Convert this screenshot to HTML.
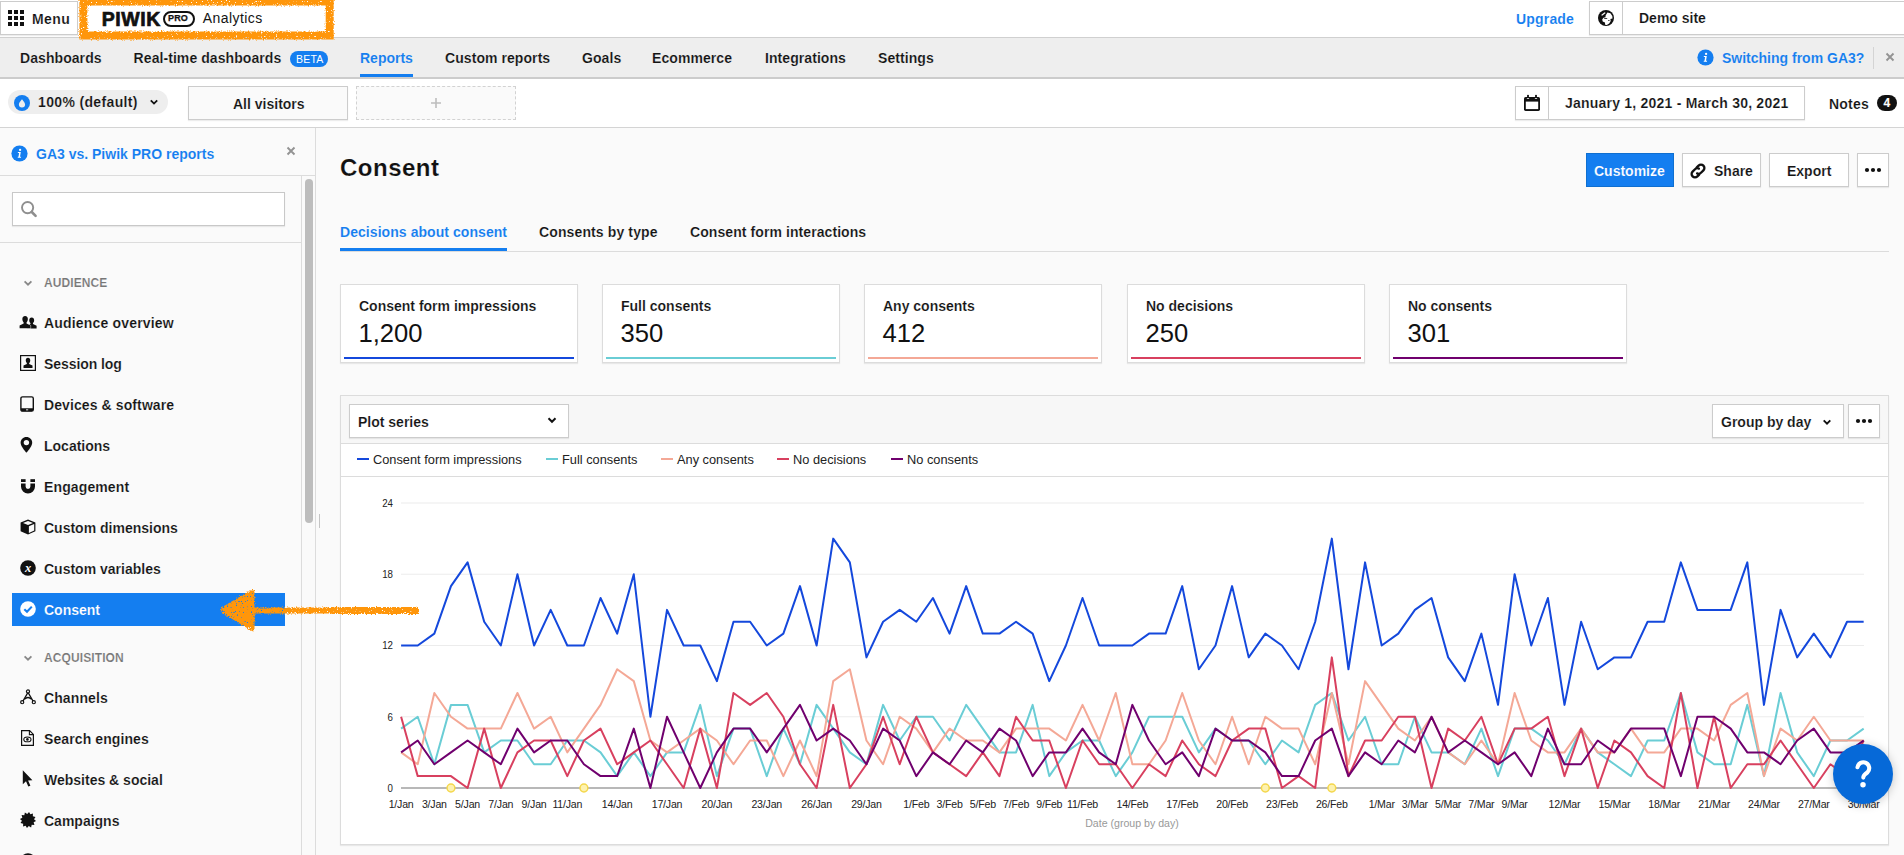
<!DOCTYPE html>
<html><head><meta charset="utf-8"><title>Consent</title><style>
*{box-sizing:border-box;margin:0;padding:0}
html,body{width:1904px;height:855px;overflow:hidden;background:#fafafa}
body{font-family:"Liberation Sans",sans-serif;font-size:14px;color:#1c1c1c;position:relative}
.a{position:absolute}
.t{position:absolute;white-space:nowrap;font-weight:700;font-size:14px;line-height:16px;color:#131313}
.t{-webkit-text-stroke:0.15px #fff}
.e{-webkit-text-stroke-color:#eee}
.f{-webkit-text-stroke-color:#fafafa}
.b{-webkit-text-stroke-color:#147ef0}
.r{font-weight:400;-webkit-text-stroke:0}
.bl{color:#147ef0;-webkit-text-stroke-width:0.08px}
.box{position:absolute;border:1px solid #ccc;background:#fff;box-shadow:0 1px 1px rgba(0,0,0,0.07)}
svg{position:absolute;overflow:visible}
</style></head><body>
<!-- top -->
<div class="a" style="left:0;top:0;width:1904px;height:38px;background:#fff;border-bottom:1px solid #d0d0d0"></div>
<div class="box" style="left:0;top:1px;width:78px;height:34px;border-color:#ccc"></div>
<svg style="left:0;top:0" width="30" height="38"><rect x="8" y="10" width="4" height="4" fill="#111"/><rect x="8" y="16" width="4" height="4" fill="#111"/><rect x="8" y="22" width="4" height="4" fill="#111"/><rect x="14" y="10" width="4" height="4" fill="#111"/><rect x="14" y="16" width="4" height="4" fill="#111"/><rect x="14" y="22" width="4" height="4" fill="#111"/><rect x="20" y="10" width="4" height="4" fill="#111"/><rect x="20" y="16" width="4" height="4" fill="#111"/><rect x="20" y="22" width="4" height="4" fill="#111"/></svg>
<div class="t" style="left:32px;top:11px;letter-spacing:0.4px">Menu</div>
<div class="t" style="left:101.8px;top:8px;font-size:19.5px;line-height:22px;font-weight:700;letter-spacing:0.55px;color:#111;-webkit-text-stroke:0.7px #111">PIWIK</div>
<div class="a" style="left:163px;top:10.5px;width:32px;height:16px;border:2px solid #111;border-radius:8px"></div>
<div class="t" style="left:168px;top:12px;font-size:9px;line-height:13px;letter-spacing:0.15px;color:#111;-webkit-text-stroke:0.25px #111">PRO</div>
<div class="t r" style="left:202.7px;top:10px;font-size:14px;letter-spacing:0.45px">Analytics</div>
<div class="t bl" style="left:1516px;top:11px;letter-spacing:0.18px">Upgrade</div>
<div class="box" style="left:1589px;top:1px;width:330px;height:34px"></div>
<div class="a" style="left:1622px;top:2px;width:1px;height:32px;background:#ccc"></div>
<div class="t" style="left:1639px;top:10px">Demo site</div>
<svg style="left:1598px;top:9.9px" width="16" height="16" viewBox="0 0 16 16"><circle cx="8" cy="8" r="8" fill="#111"/><path d="M7.6 5.4 L9.4 2.4 L12.4 3.2 L14.3 6 L14.5 8.4 L12.4 8.9 L12.7 11 L11.2 13.4 L8.8 15 L7.1 14.7 L7 12.6 L4.7 11.5 L4.2 9.5 L5.5 7.7 L7.5 7.3Z" fill="#fff"/><path d="M3.1 5 L6.6 2.3 L7.7 2.9 L4.1 5.7Z" fill="#fff"/><rect x="6.2" y="8.1" width="3" height="0.8" fill="#111"/><rect x="10" y="10" width="1.6" height="0.7" fill="#111"/></svg>
<div class="a" style="left:0;top:38px;width:1904px;height:41px;background:#eee;border-bottom:2px solid #ccc"></div>
<div class="t e" style="left:20px;top:50px;letter-spacing:0.07px">Dashboards</div>
<div class="t e" style="left:133.6px;top:50px;letter-spacing:0.07px">Real-time dashboards</div>
<div class="t e" style="left:445px;top:50px;letter-spacing:0.07px">Custom reports</div>
<div class="t e" style="left:582px;top:50px;letter-spacing:0.07px">Goals</div>
<div class="t e" style="left:652px;top:50px;letter-spacing:0.07px">Ecommerce</div>
<div class="t e" style="left:765px;top:50px;letter-spacing:0.07px">Integrations</div>
<div class="t e" style="left:878px;top:50px;letter-spacing:0.07px">Settings</div>
<div class="t bl e" style="left:360px;top:50px">Reports</div>
<div class="a" style="left:360px;top:74px;width:53px;height:3px;background:#147ef0"></div>
<div class="a" style="left:290px;top:51px;width:38px;height:16px;border-radius:8px;background:#147ef0"></div>
<div class="t r" style="left:296px;top:52px;font-size:10.5px;line-height:14px;color:#fff;letter-spacing:0.2px">BETA</div>
<svg style="left:1697.2px;top:49.3px" width="17" height="17" viewBox="-0.5 -0.5 17 17"><circle cx="8" cy="8" r="8.1" fill="#147ef0"/><circle cx="8.6" cy="4.4" r="1.15" fill="#fff"/><path d="M6.4 6.6 L9.3 6.6 L8.5 11.2 L9.6 11.2 L9.5 12.2 L6.2 12.2 L6.3 11.2 L7 11.2 L7.6 7.6 L6.3 7.6 Z" fill="#fff"/></svg>
<div class="t bl e" style="left:1722px;top:50px">Switching from GA3?</div>
<div class="a" style="left:1873px;top:47px;width:1px;height:22px;background:#d4d4d4"></div>
<svg style="left:1883.5px;top:50.8px" width="12" height="12" viewBox="-6 -6 12 12"><path d="M-3.5 -3.5L3.5 3.5M3.5 -3.5L-3.5 3.5" stroke="#939393" stroke-width="1.9" fill="none"/></svg>
<div class="a" style="left:0;top:79px;width:1904px;height:49px;background:#fff;border-bottom:1px solid #d4d4d4"></div>
<div class="a" style="left:8px;top:90px;width:160px;height:24px;border-radius:12px;background:#eee"></div>
<svg style="left:14px;top:94.9px" width="16" height="16" viewBox="0 0 16 16"><circle cx="8" cy="8" r="8" fill="#147ef0"/><path d="M8 4.3 C8 4.3 4.9 7.6 4.9 9.5 A3.1 2.9 0 0 0 11.1 9.5 C11.1 7.6 8 4.3 8 4.3Z" fill="#eee"/></svg>
<div class="t e" style="left:38px;top:94px;letter-spacing:0.35px">100% (default)</div>
<svg style="left:148px;top:95.5px" width="12" height="12" viewBox="-6 -6 12 12"><path d="M-3.2 -1.6L0 1.6L3.2 -1.6" stroke="#111" stroke-width="1.8" fill="none"/></svg>
<div class="box" style="left:188px;top:86px;width:160px;height:34px;background:#fafafa"></div>
<div class="t f" style="left:233px;top:96px">All visitors</div>
<div class="a" style="left:356px;top:86px;width:160px;height:34px;background:#fafafa;border:1px dashed #d2d2d2"></div>
<svg style="left:429.7px;top:97px" width="12" height="12" viewBox="0 0 12 12"><path d="M6 1V11M1 6H11" stroke="#bdbdbd" stroke-width="1.6" fill="none"/></svg>
<div class="box" style="left:1515px;top:86px;width:290px;height:34px"></div>
<div class="a" style="left:1548px;top:87px;width:1px;height:32px;background:#ccc"></div>
<svg style="left:1523px;top:94px" width="18" height="18" viewBox="0 0 18 18"><rect x="1" y="2.9" width="16" height="14" rx="1.6" fill="#111"/><rect x="2.8" y="7.6" width="12.4" height="7.5" fill="#fff"/><rect x="4.1" y="0.9" width="1.8" height="2.6" fill="#111"/><rect x="12.1" y="0.9" width="1.8" height="2.6" fill="#111"/><ellipse cx="5" cy="4.4" rx="1.3" ry="0.5" fill="#ddd"/><ellipse cx="13" cy="4.4" rx="1.3" ry="0.5" fill="#ddd"/></svg>
<div class="t" style="left:1565px;top:95px;letter-spacing:0.22px">January 1, 2021 - March 30, 2021</div>
<div class="t" style="left:1829px;top:96px;letter-spacing:0.2px">Notes</div>
<div class="a" style="left:1877px;top:95px;width:20px;height:16px;border-radius:8px;background:#111"></div>
<div class="t" style="left:1883.4px;top:95.3px;font-size:12px;line-height:16px;color:#fff">4</div>
<!-- sidebar -->
<div class="a" style="left:0;top:128px;width:316px;height:727px;background:#fafafa;border-right:1px solid #dcdcdc"></div>
<div class="a" style="left:0;top:175px;width:315px;height:1px;background:#dcdcdc"></div>
<div class="a" style="left:301px;top:176px;width:1px;height:679px;background:#dcdcdc"></div>
<div class="a" style="left:0;top:242px;width:301px;height:1px;background:#dcdcdc"></div>
<div class="a" style="left:305px;top:179px;width:8px;height:344px;border-radius:4px;background:#bdbdbd"></div>
<div class="a" style="left:319px;top:514px;width:1px;height:14px;background:#c4c4c4"></div>
<svg style="left:10.5px;top:144.5px" width="17" height="17" viewBox="-0.5 -0.5 17 17"><circle cx="8" cy="8" r="8.1" fill="#147ef0"/><circle cx="8.6" cy="4.4" r="1.15" fill="#fff"/><path d="M6.4 6.6 L9.3 6.6 L8.5 11.2 L9.6 11.2 L9.5 12.2 L6.2 12.2 L6.3 11.2 L7 11.2 L7.6 7.6 L6.3 7.6 Z" fill="#fff"/></svg>
<div class="t bl f" style="left:36px;top:146px">GA3 vs. Piwik PRO reports</div>
<svg style="left:285px;top:145px" width="12" height="12" viewBox="-6 -6 12 12"><path d="M-3.5 -3.5L3.5 3.5M3.5 -3.5L-3.5 3.5" stroke="#939393" stroke-width="1.9" fill="none"/></svg>
<div class="box" style="left:12px;top:192px;width:273px;height:34px;border-color:#c8c8c8"></div>
<svg style="left:20px;top:200px" width="18" height="18" viewBox="0 0 18 18"><circle cx="7.6" cy="7.6" r="5.6" fill="none" stroke="#8f8f8f" stroke-width="1.9"/><path d="M11.8 12L15.6 15.8" stroke="#8f8f8f" stroke-width="2.6" stroke-linecap="round"/></svg>
<svg style="left:22px;top:277.0px" width="12" height="12" viewBox="-6 -6 12 12"><path d="M-3.4 -1.7L0 1.7L3.4 -1.7" stroke="#888" stroke-width="1.8" fill="none"/></svg>
<div class="t f" style="left:44px;top:275.0px;font-size:12px;color:#777;letter-spacing:0.1px">AUDIENCE</div>
<svg style="left:22px;top:652.0px" width="12" height="12" viewBox="-6 -6 12 12"><path d="M-3.4 -1.7L0 1.7L3.4 -1.7" stroke="#888" stroke-width="1.8" fill="none"/></svg>
<div class="t f" style="left:44px;top:650.0px;font-size:12px;color:#777;letter-spacing:0.1px">ACQUISITION</div>
<div class="a" style="left:12px;top:593px;width:273px;height:33px;background:#147ef0"></div>
<div class="t f" style="left:44px;top:315px;letter-spacing:0.18px">Audience overview</div>
<div class="t f" style="left:44px;top:356px;letter-spacing:-0.08px">Session log</div>
<div class="t f" style="left:44px;top:397px;letter-spacing:0.1px">Devices &amp; software</div>
<div class="t f" style="left:44px;top:438px;letter-spacing:0px">Locations</div>
<div class="t f" style="left:44px;top:479px;letter-spacing:0.12px">Engagement</div>
<div class="t f" style="left:44px;top:520px;letter-spacing:0px">Custom dimensions</div>
<div class="t f" style="left:44px;top:561px;letter-spacing:0px">Custom variables</div>
<div class="t b" style="left:44px;top:602px;letter-spacing:0px;color:#fff">Consent</div>
<div class="t f" style="left:44px;top:690px;letter-spacing:0.1px">Channels</div>
<div class="t f" style="left:44px;top:731px;letter-spacing:0.1px">Search engines</div>
<div class="t f" style="left:44px;top:772px;letter-spacing:0px">Websites &amp; social</div>
<div class="t f" style="left:44px;top:813px;letter-spacing:0px">Campaigns</div>
<svg style="left:20px;top:314px" width="16" height="16" viewBox="0 0 16 16"><g transform="translate(11.7,8.9) scale(0.98)"><path d="M0 -5.6 C-1.7 -5.6 -2.5 -4.4 -2.5 -2.8 C-2.5 -1.5 -2 -0.5 -1.3 0.2 L-1.3 1.1 L-5 3 L-5 5.6 L5 5.6 L5 3 L1.3 1.1 L1.3 0.2 C2 -0.5 2.5 -1.5 2.5 -2.8 C2.5 -4.4 1.7 -5.6 0 -5.6Z" fill="#111"/></g><g transform="translate(5.1,8.2) scale(1.1)"><path d="M0 -5.6 C-1.7 -5.6 -2.5 -4.4 -2.5 -2.8 C-2.5 -1.5 -2 -0.5 -1.3 0.2 L-1.3 1.1 L-5 3 L-5 5.6 L5 5.6 L5 3 L1.3 1.1 L1.3 0.2 C2 -0.5 2.5 -1.5 2.5 -2.8 C2.5 -4.4 1.7 -5.6 0 -5.6Z" fill="#111" stroke="#fafafa" stroke-width="0.9" paint-order="stroke"/></g></svg>
<svg style="left:20px;top:355px" width="16" height="16" viewBox="0 0 16 16"><rect x="0.6" y="0.6" width="14.8" height="14.8" fill="none" stroke="#111" stroke-width="1.2"/><g transform="translate(8,7.9) scale(0.9)"><path d="M0 -5.6 C-1.7 -5.6 -2.5 -4.4 -2.5 -2.8 C-2.5 -1.5 -2 -0.5 -1.3 0.2 L-1.3 1.1 L-5 3 L-5 5.6 L5 5.6 L5 3 L1.3 1.1 L1.3 0.2 C2 -0.5 2.5 -1.5 2.5 -2.8 C2.5 -4.4 1.7 -5.6 0 -5.6Z" fill="#111"/></g></svg>
<svg style="left:20px;top:396px" width="16" height="16" viewBox="0 0 16 16"><rect x="0.9" y="0.9" width="12.4" height="14.2" rx="1.6" fill="none" stroke="#111" stroke-width="1.4"/><path d="M0.9 12.2 H13.3 V13.6 A1.6 1.6 0 0 1 11.7 15.2 H2.5 A1.6 1.6 0 0 1 0.9 13.6Z" fill="#111"/><rect x="6" y="13.4" width="2.2" height="0.9" fill="#fff"/></svg>
<svg style="left:20px;top:437px" width="16" height="16" viewBox="0 0 16 16"><path d="M6.4 0 C3.1 0 0.6 2.5 0.6 5.7 C0.6 9.6 6.4 15.6 6.4 15.6 C6.4 15.6 12.2 9.6 12.2 5.7 C12.2 2.5 9.7 0 6.4 0Z" fill="#111"/><circle cx="6.4" cy="5.6" r="2.7" fill="#fafafa"/></svg>
<svg style="left:20px;top:478px" width="16" height="16" viewBox="0 0 16 16"><path d="M1 5.4 H5.6 V8.6 A2.4 2.4 0 0 0 10.4 8.6 V5.4 H15 V8.6 A7 7 0 0 1 1 8.6Z" fill="#111"/><rect x="1" y="1.2" width="4.6" height="2.8" fill="#111"/><rect x="10.4" y="1.2" width="4.6" height="2.8" fill="#111"/></svg>
<svg style="left:20px;top:519px" width="16" height="16" viewBox="0 0 16 16"><path d="M8 0.4 L15.4 3.4 L15.4 12.2 L8 15.6 L0.6 12.2 L0.6 3.4Z" fill="#111"/><path d="M8 1.9 L13 3.9 L8 5.9 L3 3.9Z" fill="#fafafa"/><path d="M8.9 7.2 L14.2 5 L14.2 11.4 L8.9 13.9Z" fill="#fafafa"/></svg>
<svg style="left:20px;top:560px" width="16" height="16" viewBox="0 0 16 16"><circle cx="8" cy="8" r="7.8" fill="#111"/><text x="8" y="11.7" text-anchor="middle" font-family="Liberation Serif" font-style="italic" font-weight="700" font-size="12.5" fill="#fff">x</text></svg>
<svg style="left:20px;top:601px" width="16" height="16" viewBox="0 0 16 16"><circle cx="8" cy="8" r="7.8" fill="#fff"/><path d="M4.3 8.2 L7 10.8 L11.8 5.6" fill="none" stroke="#147ef0" stroke-width="2.1"/></svg>
<svg style="left:20px;top:689px" width="16" height="16" viewBox="0 0 16 16"><path d="M8 3.4 L2.8 12.4 M8 3.4 L13.2 12.4" stroke="#111" stroke-width="1.25" fill="none"/><path d="M4.4 10.2 Q8 6.8 11.6 10.2" stroke="#111" stroke-width="1.2" fill="none"/><circle cx="8" cy="2.4" r="1.55" fill="#fafafa" stroke="#111" stroke-width="1.2"/><circle cx="2.2" cy="13.2" r="1.55" fill="#fafafa" stroke="#111" stroke-width="1.2"/><circle cx="13.8" cy="13.2" r="1.55" fill="#fafafa" stroke="#111" stroke-width="1.2"/></svg>
<svg style="left:20px;top:730px" width="16" height="16" viewBox="0 0 16 16"><path d="M1.6 0.6 H9.6 L13.4 4.4 V15.4 H1.6Z" fill="none" stroke="#111" stroke-width="1.2"/><path d="M9.4 0.8 V4.6 H13.2" fill="none" stroke="#111" stroke-width="1.1"/><ellipse cx="7.4" cy="9.4" rx="3.6" ry="2.4" fill="none" stroke="#111" stroke-width="1.1"/><circle cx="7.4" cy="9.4" r="1.3" fill="#111"/></svg>
<svg style="left:20px;top:771px" width="16" height="16" viewBox="0 0 16 16"><path d="M2.8 -0.8 L2.8 13.2 L6 10.3 L8.3 15.6 L10.4 14.7 L8.1 9.6 L12.4 9.3Z" fill="#111"/></svg>
<svg style="left:20px;top:812px" width="16" height="16" viewBox="0 0 16 16"><polygon points="16.03,9.06 13.64,10.33 14.43,12.93 11.71,12.84 11.10,15.48 8.80,14.05 6.94,16.03 5.67,13.64 3.07,14.43 3.16,11.71 0.52,11.10 1.95,8.80 -0.03,6.94 2.36,5.67 1.57,3.07 4.29,3.16 4.90,0.52 7.20,1.95 9.06,-0.03 10.33,2.36 12.93,1.57 12.84,4.29 15.48,4.90 14.05,7.20" fill="#111"/></svg>
<svg style="left:20px;top:853px" width="16" height="16" viewBox="0 0 16 16"><circle cx="8" cy="8" r="7.8" fill="#111"/></svg>
<!-- main -->
<div class="t f" style="left:340px;top:153px;font-size:24px;line-height:30px;letter-spacing:0.5px;color:#111">Consent</div>
<div class="a" style="left:1586px;top:153px;width:88px;height:34px;background:#147ef0;border:1px solid #0f6fd0"></div>
<div class="t b" style="left:1594px;top:163px;color:#fff">Customize</div>
<div class="box" style="left:1682px;top:153px;width:79px;height:34px"></div>
<div class="t" style="left:1714px;top:163px">Share</div>
<svg style="left:1689px;top:161.5px" width="18" height="18" viewBox="0 0 18 18"><g fill="none" stroke="#111" stroke-width="2.2" stroke-linecap="round" transform="rotate(-45 9 9) translate(9 9) scale(1.06) translate(-9 -9)"><path d="M7.4 12.2 H5 A3.2 3.2 0 0 1 5 5.8 H8.2 A3.2 3.2 0 0 1 11.2 8"/><path d="M10.6 5.8 H13 A3.2 3.2 0 0 1 13 12.2 H9.8 A3.2 3.2 0 0 1 6.8 10"/></g></svg>
<div class="box" style="left:1769px;top:153px;width:80px;height:34px"></div>
<div class="t" style="left:1787px;top:163px">Export</div>
<div class="box" style="left:1857px;top:153px;width:32px;height:34px"></div>
<svg style="left:1863px;top:166px" width="20" height="8" viewBox="-10 -4 20 8"><circle cx="-6" cy="0" r="2.1" fill="#111"/><circle cx="0" cy="0" r="2.1" fill="#111"/><circle cx="6" cy="0" r="2.1" fill="#111"/></svg>
<div class="a" style="left:340px;top:251px;width:1549px;height:1px;background:#dcdcdc"></div>
<div class="t bl f" style="left:340px;top:224px;letter-spacing:0.06px">Decisions about consent</div>
<div class="a" style="left:340px;top:248px;width:167px;height:3px;background:#147ef0"></div>
<div class="t f" style="left:539px;top:224px;letter-spacing:0.12px">Consents by type</div>
<div class="t f" style="left:690px;top:224px;letter-spacing:0.08px">Consent form interactions</div>
<div class="box" style="left:340px;top:284px;width:238px;height:79px;border-color:#dcdcdc"></div>
<div class="t" style="left:359px;top:298px">Consent form impressions</div>
<div class="t r" style="left:358.5px;top:317.5px;font-size:25.6px;line-height:30px;color:#111">1,200</div>
<div class="a" style="left:344px;top:357px;width:230px;height:2px;background:#1448dc"></div>
<div class="box" style="left:602px;top:284px;width:238px;height:79px;border-color:#dcdcdc"></div>
<div class="t" style="left:621px;top:298px">Full consents</div>
<div class="t r" style="left:620.5px;top:317.5px;font-size:25.6px;line-height:30px;color:#111">350</div>
<div class="a" style="left:606px;top:357px;width:230px;height:2px;background:#6acdd5"></div>
<div class="box" style="left:864px;top:284px;width:238px;height:79px;border-color:#dcdcdc"></div>
<div class="t" style="left:883px;top:298px">Any consents</div>
<div class="t r" style="left:882.5px;top:317.5px;font-size:25.6px;line-height:30px;color:#111">412</div>
<div class="a" style="left:868px;top:357px;width:230px;height:2px;background:#f4a896"></div>
<div class="box" style="left:1127px;top:284px;width:238px;height:79px;border-color:#dcdcdc"></div>
<div class="t" style="left:1146px;top:298px">No decisions</div>
<div class="t r" style="left:1145.5px;top:317.5px;font-size:25.6px;line-height:30px;color:#111">250</div>
<div class="a" style="left:1131px;top:357px;width:230px;height:2px;background:#d8405f"></div>
<div class="box" style="left:1389px;top:284px;width:238px;height:79px;border-color:#dcdcdc"></div>
<div class="t" style="left:1408px;top:298px">No consents</div>
<div class="t r" style="left:1407.5px;top:317.5px;font-size:25.6px;line-height:30px;color:#111">301</div>
<div class="a" style="left:1393px;top:357px;width:230px;height:2px;background:#70006e"></div>
<!-- chart -->
<div class="box" style="left:340px;top:395px;width:1549px;height:450px;border-color:#dcdcdc;background:#fff"></div>
<div class="a" style="left:341px;top:396px;width:1547px;height:48px;background:#f7f7f7;border-bottom:1px solid #dcdcdc"></div>
<div class="a" style="left:341px;top:476px;width:1547px;height:1px;background:#dcdcdc"></div>
<div class="box" style="left:349px;top:404px;width:220px;height:34px"></div>
<div class="t" style="left:358px;top:414px">Plot series</div>
<svg style="left:546px;top:413.5px" width="12" height="12" viewBox="-6 -6 12 12"><path d="M-3.5 -1.75L0 1.75L3.5 -1.75" stroke="#111" stroke-width="2" fill="none"/></svg>
<div class="box" style="left:1712px;top:404px;width:132px;height:34px"></div>
<div class="t" style="left:1721px;top:414px">Group by day</div>
<svg style="left:1821px;top:415.5px" width="12" height="12" viewBox="-6 -6 12 12"><path d="M-3.3 -1.65L0 1.65L3.3 -1.65" stroke="#111" stroke-width="1.9" fill="none"/></svg>
<div class="box" style="left:1848px;top:404px;width:32px;height:34px"></div>
<svg style="left:1854px;top:417px" width="20" height="8" viewBox="-10 -4 20 8"><circle cx="-6" cy="0" r="2.1" fill="#111"/><circle cx="0" cy="0" r="2.1" fill="#111"/><circle cx="6" cy="0" r="2.1" fill="#111"/></svg>
<div class="a" style="left:357px;top:458px;width:12px;height:2px;background:#1448dc"></div>
<div class="t r" style="left:373px;top:452px;font-size:12.8px;color:#222">Consent form impressions</div>
<div class="a" style="left:546px;top:458px;width:12px;height:2px;background:#6acdd5"></div>
<div class="t r" style="left:562px;top:452px;font-size:12.8px;color:#222">Full consents</div>
<div class="a" style="left:661px;top:458px;width:12px;height:2px;background:#f4a896"></div>
<div class="t r" style="left:677px;top:452px;font-size:12.8px;color:#222">Any consents</div>
<div class="a" style="left:777px;top:458px;width:12px;height:2px;background:#d8405f"></div>
<div class="t r" style="left:793px;top:452px;font-size:12.8px;color:#222">No decisions</div>
<div class="a" style="left:891px;top:458px;width:12px;height:2px;background:#70006e"></div>
<div class="t r" style="left:907px;top:452px;font-size:12.8px;color:#222">No consents</div>
<svg style="left:0;top:0;font-family:'Liberation Sans',sans-serif" width="1904" height="855" viewBox="0 0 1904 855"><line x1="401" x2="1864" y1="716.75" y2="716.75" stroke="#ececec" stroke-width="1.2"/><line x1="401" x2="1864" y1="645.5" y2="645.5" stroke="#ececec" stroke-width="1.2"/><line x1="401" x2="1864" y1="574.25" y2="574.25" stroke="#ececec" stroke-width="1.2"/><line x1="401" x2="1864" y1="503.0" y2="503.0" stroke="#ececec" stroke-width="1.2"/><line x1="401" x2="1864" y1="788.0" y2="788.0" stroke="#b8b8b8" stroke-width="2"/><polyline points="401.10,645.50 417.72,645.50 434.34,633.62 450.96,586.12 467.58,562.38 484.20,621.75 500.82,645.50 517.44,574.25 534.06,645.50 550.68,609.88 567.30,645.50 583.92,645.50 600.54,598.00 617.16,633.62 633.78,574.25 650.40,716.75 667.02,609.88 683.64,645.50 700.26,645.50 716.88,681.12 733.50,621.75 750.12,621.75 766.74,645.50 783.36,633.62 799.98,586.12 816.60,645.50 833.22,538.62 849.84,562.38 866.46,657.38 883.08,621.75 899.70,609.88 916.32,621.75 932.94,598.00 949.56,633.62 966.18,586.12 982.80,633.62 999.42,633.62 1016.04,621.75 1032.66,633.62 1049.28,681.12 1065.90,645.50 1082.52,598.00 1099.14,645.50 1115.76,645.50 1132.38,645.50 1149.00,633.62 1165.62,633.62 1182.24,586.12 1198.86,669.25 1215.48,645.50 1232.10,586.12 1248.72,657.38 1265.34,633.62 1281.96,645.50 1298.58,669.25 1315.20,621.75 1331.82,538.62 1348.44,669.25 1365.06,562.38 1381.68,645.50 1398.30,633.62 1414.92,609.88 1431.54,598.00 1448.16,657.38 1464.78,681.12 1481.40,633.62 1498.02,704.88 1514.64,574.25 1531.26,645.50 1547.88,598.00 1564.50,704.88 1581.12,621.75 1597.74,669.25 1614.36,657.38 1630.98,657.38 1647.60,621.75 1664.22,621.75 1680.84,562.38 1697.46,609.88 1714.08,609.88 1730.70,609.88 1747.32,562.38 1763.94,704.88 1780.56,609.88 1797.18,657.38 1813.80,633.62 1830.42,657.38 1847.04,621.75 1863.66,621.75" fill="none" stroke="#1448dc" stroke-width="2" stroke-linejoin="round"/><polyline points="401.10,728.62 417.72,716.75 434.34,764.25 450.96,704.88 467.58,704.88 484.20,752.38 500.82,740.50 517.44,740.50 534.06,764.25 550.68,764.25 567.30,740.50 583.92,740.50 600.54,752.38 617.16,776.12 633.78,752.38 650.40,776.12 667.02,752.38 683.64,752.38 700.26,704.88 716.88,776.12 733.50,728.62 750.12,728.62 766.74,776.12 783.36,728.62 799.98,764.25 816.60,704.88 833.22,728.62 849.84,752.38 866.46,764.25 883.08,704.88 899.70,740.50 916.32,716.75 932.94,716.75 949.56,740.50 966.18,704.88 982.80,728.62 999.42,752.38 1016.04,752.38 1032.66,704.88 1049.28,776.12 1065.90,752.38 1082.52,740.50 1099.14,740.50 1115.76,776.12 1132.38,752.38 1149.00,716.75 1165.62,716.75 1182.24,716.75 1198.86,752.38 1215.48,728.62 1232.10,740.50 1248.72,740.50 1265.34,764.25 1281.96,740.50 1298.58,752.38 1315.20,704.88 1331.82,693.00 1348.44,740.50 1365.06,716.75 1381.68,764.25 1398.30,764.25 1414.92,716.75 1431.54,752.38 1448.16,752.38 1464.78,764.25 1481.40,728.62 1498.02,776.12 1514.64,728.62 1531.26,728.62 1547.88,740.50 1564.50,764.25 1581.12,728.62 1597.74,752.38 1614.36,764.25 1630.98,776.12 1647.60,740.50 1664.22,740.50 1680.84,693.00 1697.46,752.38 1714.08,764.25 1730.70,764.25 1747.32,704.88 1763.94,776.12 1780.56,693.00 1797.18,752.38 1813.80,776.12 1830.42,740.50 1847.04,740.50 1863.66,728.62" fill="none" stroke="#6acdd5" stroke-width="2" stroke-linejoin="round"/><polyline points="401.10,752.38 417.72,764.25 434.34,693.00 450.96,716.75 467.58,728.62 484.20,728.62 500.82,728.62 517.44,693.00 534.06,728.62 550.68,716.75 567.30,752.38 583.92,728.62 600.54,704.88 617.16,669.25 633.78,681.12 650.40,740.50 667.02,752.38 683.64,740.50 700.26,728.62 716.88,740.50 733.50,764.25 750.12,740.50 766.74,740.50 783.36,776.12 799.98,740.50 816.60,776.12 833.22,681.12 849.84,669.25 866.46,740.50 883.08,764.25 899.70,716.75 916.32,728.62 932.94,752.38 949.56,728.62 966.18,740.50 982.80,740.50 999.42,752.38 1016.04,728.62 1032.66,728.62 1049.28,728.62 1065.90,740.50 1082.52,704.88 1099.14,740.50 1115.76,693.00 1132.38,764.25 1149.00,764.25 1165.62,740.50 1182.24,693.00 1198.86,740.50 1215.48,764.25 1232.10,716.75 1248.72,764.25 1265.34,716.75 1281.96,728.62 1298.58,728.62 1315.20,764.25 1331.82,693.00 1348.44,764.25 1365.06,681.12 1381.68,704.88 1398.30,728.62 1414.92,740.50 1431.54,716.75 1448.16,752.38 1464.78,764.25 1481.40,740.50 1498.02,764.25 1514.64,693.00 1531.26,740.50 1547.88,752.38 1564.50,752.38 1581.12,728.62 1597.74,752.38 1614.36,752.38 1630.98,728.62 1647.60,752.38 1664.22,752.38 1680.84,728.62 1697.46,728.62 1714.08,740.50 1730.70,704.88 1747.32,693.00 1763.94,776.12 1780.56,728.62 1797.18,740.50 1813.80,716.75 1830.42,740.50 1847.04,740.50 1863.66,740.50" fill="none" stroke="#f4a896" stroke-width="2" stroke-linejoin="round"/><polyline points="401.10,716.75 417.72,776.12 434.34,776.12 450.96,776.12 467.58,788.00 484.20,728.62 500.82,788.00 517.44,752.38 534.06,740.50 550.68,740.50 567.30,776.12 583.92,740.50 600.54,728.62 617.16,764.25 633.78,752.38 650.40,740.50 667.02,764.25 683.64,788.00 700.26,728.62 716.88,788.00 733.50,693.00 750.12,704.88 766.74,693.00 783.36,716.75 799.98,764.25 816.60,788.00 833.22,704.88 849.84,788.00 866.46,764.25 883.08,716.75 899.70,764.25 916.32,716.75 932.94,752.38 949.56,764.25 966.18,776.12 982.80,752.38 999.42,776.12 1016.04,716.75 1032.66,740.50 1049.28,740.50 1065.90,788.00 1082.52,740.50 1099.14,764.25 1115.76,764.25 1132.38,788.00 1149.00,764.25 1165.62,776.12 1182.24,740.50 1198.86,764.25 1215.48,776.12 1232.10,740.50 1248.72,728.62 1265.34,728.62 1281.96,788.00 1298.58,776.12 1315.20,788.00 1331.82,657.38 1348.44,776.12 1365.06,740.50 1381.68,740.50 1398.30,716.75 1414.92,716.75 1431.54,788.00 1448.16,728.62 1464.78,740.50 1481.40,716.75 1498.02,764.25 1514.64,728.62 1531.26,728.62 1547.88,716.75 1564.50,776.12 1581.12,728.62 1597.74,788.00 1614.36,740.50 1630.98,752.38 1647.60,776.12 1664.22,788.00 1680.84,693.00 1697.46,788.00 1714.08,716.75 1730.70,788.00 1747.32,764.25 1763.94,764.25 1780.56,740.50 1797.18,764.25 1813.80,788.00 1830.42,764.25 1847.04,776.12 1863.66,740.50" fill="none" stroke="#d8405f" stroke-width="2" stroke-linejoin="round"/><polyline points="401.10,752.38 417.72,740.50 434.34,764.25 450.96,752.38 467.58,740.50 484.20,752.38 500.82,764.25 517.44,728.62 534.06,752.38 550.68,740.50 567.30,740.50 583.92,764.25 600.54,776.12 617.16,776.12 633.78,728.62 650.40,788.00 667.02,716.75 683.64,752.38 700.26,788.00 716.88,752.38 733.50,728.62 750.12,728.62 766.74,752.38 783.36,728.62 799.98,704.88 816.60,740.50 833.22,728.62 849.84,740.50 866.46,764.25 883.08,728.62 899.70,740.50 916.32,776.12 932.94,752.38 949.56,764.25 966.18,740.50 982.80,752.38 999.42,728.62 1016.04,740.50 1032.66,776.12 1049.28,752.38 1065.90,752.38 1082.52,728.62 1099.14,752.38 1115.76,764.25 1132.38,704.88 1149.00,740.50 1165.62,764.25 1182.24,752.38 1198.86,776.12 1215.48,728.62 1232.10,740.50 1248.72,740.50 1265.34,752.38 1281.96,776.12 1298.58,776.12 1315.20,740.50 1331.82,728.62 1348.44,776.12 1365.06,752.38 1381.68,764.25 1398.30,740.50 1414.92,752.38 1431.54,716.75 1448.16,752.38 1464.78,740.50 1481.40,752.38 1498.02,764.25 1514.64,752.38 1531.26,776.12 1547.88,728.62 1564.50,764.25 1581.12,764.25 1597.74,740.50 1614.36,752.38 1630.98,728.62 1647.60,728.62 1664.22,728.62 1680.84,776.12 1697.46,716.75 1714.08,716.75 1730.70,728.62 1747.32,752.38 1763.94,752.38 1780.56,764.25 1797.18,740.50 1813.80,728.62 1830.42,752.38 1847.04,752.38 1863.66,740.50" fill="none" stroke="#70006e" stroke-width="2" stroke-linejoin="round"/><circle cx="450.96" cy="788.0" r="3.9" fill="#fdf2b0" stroke="#f4d74c" stroke-width="1.5"/><circle cx="583.92" cy="788.0" r="3.9" fill="#fdf2b0" stroke="#f4d74c" stroke-width="1.5"/><circle cx="1265.34" cy="788.0" r="3.9" fill="#fdf2b0" stroke="#f4d74c" stroke-width="1.5"/><circle cx="1331.82" cy="788.0" r="3.9" fill="#fdf2b0" stroke="#f4d74c" stroke-width="1.5"/><text transform="translate(393,791.8) scale(0.9,1)" text-anchor="end" font-size="10.8" fill="#222">0</text><text transform="translate(393,720.55) scale(0.9,1)" text-anchor="end" font-size="10.8" fill="#222">6</text><text transform="translate(393,649.3) scale(0.9,1)" text-anchor="end" font-size="10.8" fill="#222">12</text><text transform="translate(393,578.05) scale(0.9,1)" text-anchor="end" font-size="10.8" fill="#222">18</text><text transform="translate(393,506.8) scale(0.9,1)" text-anchor="end" font-size="10.8" fill="#222">24</text><text x="401.10" y="808" text-anchor="middle" font-size="10.6" letter-spacing="-0.2" fill="#222">1/Jan</text><text x="434.34" y="808" text-anchor="middle" font-size="10.6" letter-spacing="-0.2" fill="#222">3/Jan</text><text x="467.58" y="808" text-anchor="middle" font-size="10.6" letter-spacing="-0.2" fill="#222">5/Jan</text><text x="500.82" y="808" text-anchor="middle" font-size="10.6" letter-spacing="-0.2" fill="#222">7/Jan</text><text x="534.06" y="808" text-anchor="middle" font-size="10.6" letter-spacing="-0.2" fill="#222">9/Jan</text><text x="567.30" y="808" text-anchor="middle" font-size="10.6" letter-spacing="-0.2" fill="#222">11/Jan</text><text x="617.16" y="808" text-anchor="middle" font-size="10.6" letter-spacing="-0.2" fill="#222">14/Jan</text><text x="667.02" y="808" text-anchor="middle" font-size="10.6" letter-spacing="-0.2" fill="#222">17/Jan</text><text x="716.88" y="808" text-anchor="middle" font-size="10.6" letter-spacing="-0.2" fill="#222">20/Jan</text><text x="766.74" y="808" text-anchor="middle" font-size="10.6" letter-spacing="-0.2" fill="#222">23/Jan</text><text x="816.60" y="808" text-anchor="middle" font-size="10.6" letter-spacing="-0.2" fill="#222">26/Jan</text><text x="866.46" y="808" text-anchor="middle" font-size="10.6" letter-spacing="-0.2" fill="#222">29/Jan</text><text x="916.32" y="808" text-anchor="middle" font-size="10.6" letter-spacing="-0.2" fill="#222">1/Feb</text><text x="949.56" y="808" text-anchor="middle" font-size="10.6" letter-spacing="-0.2" fill="#222">3/Feb</text><text x="982.80" y="808" text-anchor="middle" font-size="10.6" letter-spacing="-0.2" fill="#222">5/Feb</text><text x="1016.04" y="808" text-anchor="middle" font-size="10.6" letter-spacing="-0.2" fill="#222">7/Feb</text><text x="1049.28" y="808" text-anchor="middle" font-size="10.6" letter-spacing="-0.2" fill="#222">9/Feb</text><text x="1082.52" y="808" text-anchor="middle" font-size="10.6" letter-spacing="-0.2" fill="#222">11/Feb</text><text x="1132.38" y="808" text-anchor="middle" font-size="10.6" letter-spacing="-0.2" fill="#222">14/Feb</text><text x="1182.24" y="808" text-anchor="middle" font-size="10.6" letter-spacing="-0.2" fill="#222">17/Feb</text><text x="1232.10" y="808" text-anchor="middle" font-size="10.6" letter-spacing="-0.2" fill="#222">20/Feb</text><text x="1281.96" y="808" text-anchor="middle" font-size="10.6" letter-spacing="-0.2" fill="#222">23/Feb</text><text x="1331.82" y="808" text-anchor="middle" font-size="10.6" letter-spacing="-0.2" fill="#222">26/Feb</text><text x="1381.68" y="808" text-anchor="middle" font-size="10.6" letter-spacing="-0.2" fill="#222">1/Mar</text><text x="1414.92" y="808" text-anchor="middle" font-size="10.6" letter-spacing="-0.2" fill="#222">3/Mar</text><text x="1448.16" y="808" text-anchor="middle" font-size="10.6" letter-spacing="-0.2" fill="#222">5/Mar</text><text x="1481.40" y="808" text-anchor="middle" font-size="10.6" letter-spacing="-0.2" fill="#222">7/Mar</text><text x="1514.64" y="808" text-anchor="middle" font-size="10.6" letter-spacing="-0.2" fill="#222">9/Mar</text><text x="1564.50" y="808" text-anchor="middle" font-size="10.6" letter-spacing="-0.2" fill="#222">12/Mar</text><text x="1614.36" y="808" text-anchor="middle" font-size="10.6" letter-spacing="-0.2" fill="#222">15/Mar</text><text x="1664.22" y="808" text-anchor="middle" font-size="10.6" letter-spacing="-0.2" fill="#222">18/Mar</text><text x="1714.08" y="808" text-anchor="middle" font-size="10.6" letter-spacing="-0.2" fill="#222">21/Mar</text><text x="1763.94" y="808" text-anchor="middle" font-size="10.6" letter-spacing="-0.2" fill="#222">24/Mar</text><text x="1813.80" y="808" text-anchor="middle" font-size="10.6" letter-spacing="-0.2" fill="#222">27/Mar</text><text x="1863.66" y="808" text-anchor="middle" font-size="10.6" letter-spacing="-0.2" fill="#222">30/Mar</text><text x="1132" y="827" text-anchor="middle" font-size="10.6" fill="#999">Date (group by day)</text></svg>
<div class="a" style="left:1833px;top:743.5px;width:60px;height:60px;border-radius:30px;background:#0669d8;box-shadow:0 1px 10px rgba(0,0,0,0.22)"></div>
<svg style="left:0;top:0" width="1904" height="855" viewBox="0 0 1904 855"><path d="M1857.5 767.2 A5.9 5.9 0 1 1 1867.6 772.2 Q1863.3 775.2 1863.3 777.6" fill="none" stroke="#fff" stroke-width="4.1" stroke-linecap="round"/><circle cx="1863" cy="784.8" r="2.75" fill="#fff"/></svg>
<!-- annotations -->
<svg style="left:0;top:0" width="1904" height="855" viewBox="0 0 1904 855">
<defs><filter id="rough" x="-5%" y="-30%" width="110%" height="160%" color-interpolation-filters="sRGB"><feTurbulence type="fractalNoise" baseFrequency="0.85" numOctaves="2" seed="3" result="n"/><feDisplacementMap in="SourceGraphic" in2="n" scale="4" xChannelSelector="R" yChannelSelector="G" result="d"/><feTurbulence type="fractalNoise" baseFrequency="0.8" numOctaves="1" seed="11" result="n2"/><feColorMatrix in="n2" type="matrix" values="0 0 0 0 0 0 0 0 0 0 0 0 0 0 0 -14 0 0 0 10.3" result="m"/><feComposite in="d" in2="m" operator="in"/></filter></defs>
<g filter="url(#rough)">
<rect x="83.4" y="1.5" width="246.3" height="34" fill="none" stroke="#ff960a" stroke-width="8"/>
</g>
<g filter="url(#rough)">
<path d="M419 610.5 L330 610.5" stroke="#ff960a" stroke-width="7" fill="none"/>
<path d="M332 610.5 L250 610.5" stroke="#ff960a" stroke-width="6" fill="none"/>
<path d="M221 610 Q221 608 224 606 L252 589.5 Q254.5 588.5 254.5 592 L254.5 629 Q254.5 632.5 252 631 L224 614 Q221 612 221 610Z" fill="#ff960a"/>
</g></svg>
</body></html>
